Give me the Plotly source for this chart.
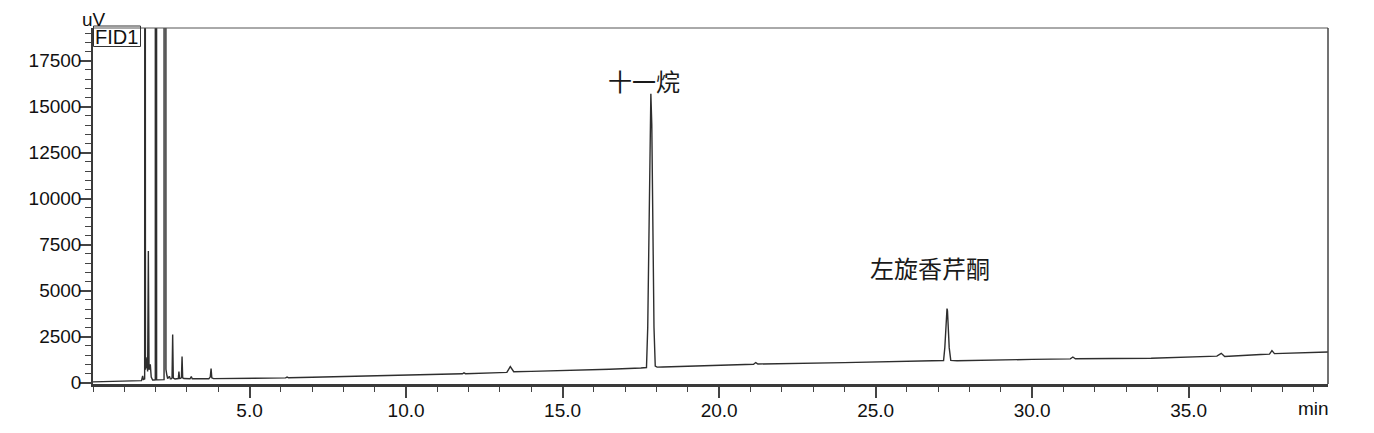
import plotly.graph_objects as go

# ---- chromatogram (time in min, signal in uV) ----
t_early = [0.00, 0.80, 1.40, 1.55, 1.586, 1.61, 1.64, 1.650, 1.662, 1.675, 1.70, 1.726, 1.745,
           1.768, 1.79, 1.81, 1.830, 1.86, 1.905, 1.95, 1.990, 2.011, 2.032, 2.07, 2.22,
           2.270, 2.291, 2.312, 2.330, 2.36, 2.385, 2.44, 2.47, 2.50, 2.525, 2.545, 2.565,
           2.62, 2.67, 2.725, 2.745, 2.765, 2.80, 2.825, 2.845, 2.865, 2.90, 3.10, 3.14,
           3.17, 3.70, 3.745, 3.772, 3.795, 3.85, 4.20]
v_early = [40, 60, 85, 110, 360, 150, 200, 200, 80000, 700, 900, 1370, 600,
           7150, 700, 850, 990, 300, 140, 140, 150, 600000, 160, 150, 150,
           160, 600000, 1400, 720, 400, 220, 340, 200, 200, 260, 2620, 250,
           200, 230, 220, 600, 220, 230, 280, 1420, 260, 220, 210, 330,
           210, 210, 300, 760, 260, 215, 215]

t_mid = [5.0, 6.0, 6.15, 6.20, 6.25, 7.0, 9.0, 10.0, 11.0, 11.80, 11.85, 11.90, 13.0,
         13.22, 13.33, 13.44, 14.0, 15.5, 16.5, 17.5, 17.62]
v_mid = [220, 255, 255, 300, 260, 290, 360, 400, 440, 480, 530, 485, 540,
         555, 870, 590, 610, 660, 725, 790, 800]

t_undecane = [17.68, 17.72, 17.76, 17.79, 17.82, 17.85, 17.88, 17.92, 17.96, 18.02]
v_undecane = [820, 3000, 9000, 14000, 15700, 14000, 9000, 3000, 900, 840]

t_late = [18.2, 20.0, 21.10, 21.17, 21.24, 24.0, 27.12, 27.17, 27.21, 27.245, 27.265,
          27.28, 27.295, 27.315, 27.35, 27.40, 27.6, 30.0, 31.22, 31.30, 31.38, 33.8,
          35.9, 36.04, 36.15, 37.3, 37.58, 37.66, 37.74, 39.45]
v_late = [850, 960, 1000, 1090, 1010, 1085, 1160, 1200, 1900, 3300, 3900,
          4020, 3900, 3300, 1900, 1210, 1190, 1260, 1290, 1390, 1295, 1320,
          1440, 1590, 1420, 1530, 1550, 1740, 1575, 1665]

x_tick_vals = [5, 10, 15, 20, 25, 30, 35]
x_tick_text = ["5.0", "10.0", "15.0", "20.0", "25.0", "30.0", "35.0"]
y_tick_vals = [0, 2500, 5000, 7500, 10000, 12500, 15000, 17500]
y_tick_text = ["0", "2500", "5000", "7500", "10000", "12500", "15000", "17500"]

peak_labels = ["十一烷", "左旋香芹酮"]
peak_label_pos = [(17.6, 16400), (26.75, 6260)]

time_min = t_early + t_mid + t_undecane + t_late
signal_uv = v_early + v_mid + v_undecane + v_late

FONT = "Liberation Sans, Arial, sans-serif"
CJK = "Noto Sans CJK SC, sans-serif"
INK = "#2e2e2e"

fig = go.Figure(go.Scatter(x=time_min, y=signal_uv, mode="lines",
                           line=dict(color=INK, width=1.4), hoverinfo="skip"))

fig.update_layout(
    width=1374, height=433,
    margin=dict(l=93, r=46, t=28, b=49, autoexpand=False),
    plot_bgcolor="white", paper_bgcolor="white",
    showlegend=False,
    font=dict(family=FONT, size=19, color="#111111"),
    xaxis=dict(range=[0, 39.45], tickvals=x_tick_vals, ticktext=x_tick_text,
               ticks="outside", ticklen=11, tickwidth=1.5, tickcolor="#444444",
               minor=dict(dtick=1, tick0=0, ticks="outside", ticklen=5, tickwidth=1.3,
                          tickcolor="#444444"),
               showline=True, linecolor="#3a3a3a", linewidth=2.5, automargin=False,
               ticklabelstandoff=-4,
               showgrid=False, zeroline=False, tickfont=dict(size=19)),
    yaxis=dict(range=[-76, 19272], tickvals=y_tick_vals, ticktext=y_tick_text,
               ticks="outside", ticklen=11, tickwidth=1.5, tickcolor="#444444",
               minor=dict(dtick=500, tick0=0, ticks="outside", ticklen=6, tickwidth=1.3,
                          tickcolor="#444444"),
               showline=True, linecolor="#3a3a3a", linewidth=1.5, automargin=False,
               ticklabelstandoff=-5,
               showgrid=False, zeroline=False, tickfont=dict(size=19)),
    shapes=[
        dict(type="line", xref="paper", yref="paper", x0=0, x1=1, y0=1, y1=1,
             line=dict(color="#555555", width=1)),
        dict(type="line", xref="paper", yref="paper", x0=1, x1=1, y0=0, y1=1,
             line=dict(color="#444444", width=1.5)),
        dict(type="rect", xref="paper", yref="paper", xsizemode="pixel", ysizemode="pixel",
             xanchor=0, yanchor=1, x0=0.5, x1=47.5, y0=2, y1=-18.5,
             line=dict(color="#333333", width=1), fillcolor="rgba(0,0,0,0)"),
    ],
)

annotations = [
    dict(text="uV", xref="paper", yref="paper", x=0, y=1, xanchor="center", yanchor="middle",
         xshift=1, yshift=9, showarrow=False, font=dict(size=19)),
    dict(text="FID1", xref="paper", yref="paper", x=0, y=1, xanchor="center", yanchor="middle",
         xshift=23, yshift=-9, showarrow=False, font=dict(size=20)),
    dict(text="min", xref="paper", yref="paper", x=1, y=0, xanchor="right", yanchor="middle",
         xshift=3, yshift=-24, showarrow=False, font=dict(size=19)),
]
for label, (px, py) in zip(peak_labels, peak_label_pos):
    annotations.append(dict(text=label, x=px, y=py, xref="x", yref="y", showarrow=False,
                            xanchor="center", yanchor="middle",
                            font=dict(family=CJK, size=24, color="#1a1a1a")))
fig.update_layout(annotations=annotations)

fig.write_html("out.html", config={"displayModeBar": False},
               post_script="document.body.style.margin='0';document.body.style.overflow='hidden';")
